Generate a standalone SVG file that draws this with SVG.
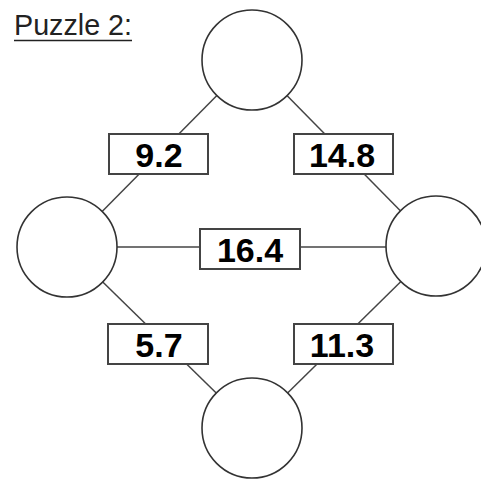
<svg xmlns="http://www.w3.org/2000/svg" width="481" height="479" viewBox="0 0 481 479">
<style>
.c{fill:#fff;stroke:#333;stroke-width:1.6}
.b{fill:#fff;stroke:#444;stroke-width:2}
.l{stroke:#444;stroke-width:1.5;fill:none}
.t{font-family:"Liberation Sans",Arial,sans-serif;font-weight:bold;font-size:34px;fill:#000;text-anchor:middle}
</style>
<rect width="481" height="479" fill="#fff"/>
<g id="title">
<text x="14" y="35" font-family="'Liberation Sans',Arial,sans-serif" font-size="28.7" fill="#222">Puzzle 2:</text>
<line x1="14" y1="40.5" x2="132" y2="40.5" stroke="#222" stroke-width="1.6"/>
</g>
<g id="connectors">
<line class="l" x1="252" y1="60" x2="67" y2="247"/>
<line class="l" x1="252" y1="60" x2="436" y2="247"/>
<line class="l" x1="67" y1="247" x2="436" y2="247"/>
<line class="l" x1="67" y1="247" x2="252" y2="428"/>
<line class="l" x1="436" y1="247" x2="252" y2="428"/>
</g>
<g id="n-top"><circle class="c" cx="252" cy="60" r="50"/></g>
<g id="n-left"><circle class="c" cx="67" cy="247" r="50"/></g>
<g id="n-right"><circle class="c" cx="436" cy="246" r="50"/></g>
<g id="n-bottom"><circle class="c" cx="252" cy="428" r="50"/></g>
<g id="e-92"><rect class="b" x="109" y="134" width="99" height="40"/><text class="t" x="159" y="167">9.2</text></g>
<g id="e-148"><rect class="b" x="294" y="134" width="99" height="40"/><text class="t" x="342" y="167">14.8</text></g>
<g id="e-164"><rect class="b" x="200" y="229" width="100" height="40"/><text class="t" x="250" y="262">16.4</text></g>
<g id="e-57"><rect class="b" x="108" y="324" width="100" height="40"/><text class="t" x="159" y="357">5.7</text></g>
<g id="e-113"><rect class="b" x="294" y="324" width="99" height="40"/><text class="t" x="342" y="357">11.3</text></g>
</svg>
